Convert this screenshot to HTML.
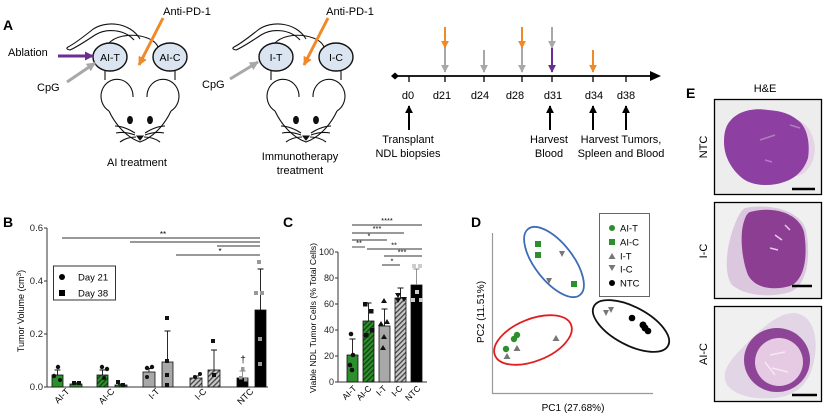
<!DOCTYPE html>
<html><head><meta charset="utf-8"><style>
html,body{margin:0;padding:0;background:#fff;}
svg{display:block;font-family:"Liberation Sans",Arial,sans-serif;}
</style></head><body>
<svg width="825" height="416" viewBox="0 0 825 416" xmlns="http://www.w3.org/2000/svg">
<defs>
<marker id="mo" viewBox="0 0 10 10" refX="9" refY="5" markerWidth="9" markerHeight="9" orient="auto" markerUnits="userSpaceOnUse"><path d="M0,0 L10,5 L0,10 z" fill="#f08a28"/></marker>
<marker id="mg" viewBox="0 0 10 10" refX="9" refY="5" markerWidth="9" markerHeight="9" orient="auto" markerUnits="userSpaceOnUse"><path d="M0,0 L10,5 L0,10 z" fill="#a8a8a8"/></marker>
<marker id="mp" viewBox="0 0 10 10" refX="9" refY="5" markerWidth="9" markerHeight="9" orient="auto" markerUnits="userSpaceOnUse"><path d="M0,0 L10,5 L0,10 z" fill="#6a2d90"/></marker>
<marker id="mk" viewBox="0 0 10 10" refX="9" refY="5" markerWidth="9" markerHeight="9" orient="auto" markerUnits="userSpaceOnUse"><path d="M0,0 L10,5 L0,10 z" fill="#000"/></marker>
<marker id="mo2" viewBox="0 0 10 10" refX="9" refY="5" markerWidth="8" markerHeight="8" orient="auto" markerUnits="userSpaceOnUse"><path d="M0,0 L10,5 L0,10 z" fill="#f08a28"/></marker>
<marker id="mg2" viewBox="0 0 10 10" refX="9" refY="5" markerWidth="8" markerHeight="8" orient="auto" markerUnits="userSpaceOnUse"><path d="M0,0 L10,5 L0,10 z" fill="#a8a8a8"/></marker>
<marker id="mp2" viewBox="0 0 10 10" refX="9" refY="5" markerWidth="8" markerHeight="8" orient="auto" markerUnits="userSpaceOnUse"><path d="M0,0 L10,5 L0,10 z" fill="#6a2d90"/></marker>
<marker id="mk2" viewBox="0 0 10 10" refX="9" refY="5" markerWidth="8" markerHeight="8" orient="auto" markerUnits="userSpaceOnUse"><path d="M0,0 L10,5 L0,10 z" fill="#000"/></marker>
<pattern id="hg" width="3.5" height="3.5" patternUnits="userSpaceOnUse" patternTransform="rotate(45)"><rect width="3.5" height="3.5" fill="#2b8f2b"/><rect width="1.2" height="3.5" fill="#123d12"/></pattern>
<pattern id="hgr" width="3.5" height="3.5" patternUnits="userSpaceOnUse" patternTransform="rotate(45)"><rect width="3.5" height="3.5" fill="#c8c8c8"/><rect width="1.3" height="3.5" fill="#444"/></pattern>
<g id="mouse" fill="none" stroke="#111" stroke-width="1.1">
  <path d="M140,39 C130,22 105,20 92,30 C82,38 74,44 68,47 Q65,49 70,50 C77,47 86,41 95,35 C106,28 124,29 134,40" fill="#fff"/>
  <path d="M108,44 C115,36 128,34 140,36 C150,38 156,42 158,47"/>
  <path d="M105,68 L105,80 M175,68 L175,80"/>
  <path d="M133,97 A16,17 0 1 0 109,111"/>
  <path d="M147,97 A16,17 0 1 1 171,111"/>
  <path d="M109,111 C116,126 128,138 140,142 C152,138 164,126 171,111"/>
  <ellipse cx="110" cy="57" rx="17" ry="14" fill="#dbe5f1" stroke-width="1.4"/>
  <ellipse cx="170" cy="57" rx="17" ry="14" fill="#dbe5f1" stroke-width="1.4"/>
  <ellipse cx="130" cy="120" rx="2.4" ry="3.6" fill="#111"/>
  <ellipse cx="150" cy="120" rx="2.4" ry="3.6" fill="#111"/>
  <path d="M137,136 L143,136 L140,140 Z" fill="#111"/>
  <path d="M135,133 C127,128 121,126 115,126 M135,135 C127,132 121,132 116,133 M136,137 C129,137 124,139 120,142 M145,133 C153,128 159,126 165,126 M145,135 C153,132 159,132 164,133 M144,137 C151,137 156,139 160,142"/>
</g>
</defs>
<rect width="825" height="416" fill="#fff"/>

<!-- Panel A -->
<text x="3" y="30" font-size="14" font-weight="bold">A</text>
<use href="#mouse"/>
<use href="#mouse" transform="translate(166,0)"/>
<text x="110" y="61" font-size="10.5" text-anchor="middle">AI-T</text>
<text x="170" y="61" font-size="10.5" text-anchor="middle">AI-C</text>
<text x="276" y="61" font-size="10.5" text-anchor="middle">I-T</text>
<text x="336" y="61" font-size="10.5" text-anchor="middle">I-C</text>
<text x="187" y="15" font-size="11" text-anchor="middle">Anti-PD-1</text>
<text x="350" y="15" font-size="11" text-anchor="middle">Anti-PD-1</text>
<line x1="163" y1="18" x2="139" y2="65" stroke="#f08a28" stroke-width="3" marker-end="url(#mo)"/>
<line x1="328" y1="18" x2="304" y2="65" stroke="#f08a28" stroke-width="3" marker-end="url(#mo)"/>
<text x="8" y="56" font-size="11">Ablation</text>
<line x1="58" y1="56" x2="93" y2="56" stroke="#6a2d90" stroke-width="3" marker-end="url(#mp)"/>
<text x="37" y="91" font-size="11">CpG</text>
<line x1="67" y1="82" x2="95" y2="63" stroke="#a8a8a8" stroke-width="3" marker-end="url(#mg)"/>
<text x="202" y="88" font-size="11">CpG</text>
<line x1="230" y1="79" x2="258" y2="62" stroke="#a8a8a8" stroke-width="3" marker-end="url(#mg)"/>
<text x="137" y="166" font-size="11" text-anchor="middle">AI treatment</text>
<text x="300" y="160" font-size="11" text-anchor="middle">Immunotherapy</text>
<text x="300" y="174" font-size="11" text-anchor="middle">treatment</text>

<!-- Timeline -->
<line x1="395" y1="76" x2="656" y2="76" stroke="#000" stroke-width="1.8"/>
<path d="M650,71 L661,76 L650,81 Z" fill="#000"/>
<path d="M391,76 L395,72.5 L399,76 L395,79.5 Z" fill="#000"/>
<g stroke="#000" stroke-width="1.3">
<line x1="409" y1="76" x2="409" y2="82"/><line x1="445" y1="76" x2="445" y2="82"/><line x1="484" y1="76" x2="484" y2="82"/><line x1="522" y1="76" x2="522" y2="82"/><line x1="552" y1="76" x2="552" y2="82"/><line x1="593" y1="76" x2="593" y2="82"/><line x1="626" y1="76" x2="626" y2="82"/>
</g>
<g stroke-width="2">
<line x1="445" y1="27" x2="445" y2="48" stroke="#f08a28" marker-end="url(#mo2)"/>
<line x1="445" y1="48" x2="445" y2="72" stroke="#a8a8a8" marker-end="url(#mg2)"/>
<line x1="484" y1="50" x2="484" y2="72" stroke="#a8a8a8" marker-end="url(#mg2)"/>
<line x1="522" y1="27" x2="522" y2="48" stroke="#f08a28" marker-end="url(#mo2)"/>
<line x1="522" y1="48" x2="522" y2="72" stroke="#a8a8a8" marker-end="url(#mg2)"/>
<line x1="552" y1="27" x2="552" y2="48" stroke="#a8a8a8" marker-end="url(#mg2)"/>
<line x1="552" y1="48" x2="552" y2="72" stroke="#6a2d90" marker-end="url(#mp2)"/>
<line x1="593" y1="50" x2="593" y2="72" stroke="#f08a28" marker-end="url(#mo2)"/>
<line x1="409" y1="130" x2="409" y2="106" stroke="#000" marker-end="url(#mk2)"/>
<line x1="550" y1="130" x2="550" y2="106" stroke="#000" marker-end="url(#mk2)"/>
<line x1="593" y1="130" x2="593" y2="106" stroke="#000" marker-end="url(#mk2)"/>
<line x1="626" y1="130" x2="626" y2="106" stroke="#000" marker-end="url(#mk2)"/>
</g>
<g font-size="11" text-anchor="middle">
<text x="408" y="99">d0</text><text x="442" y="99">d21</text><text x="480" y="99">d24</text><text x="515" y="99">d28</text><text x="553" y="99">d31</text><text x="594" y="99">d34</text><text x="626" y="99">d38</text>
<text x="408" y="143">Transplant</text><text x="408" y="157">NDL biopsies</text>
<text x="549" y="143">Harvest</text><text x="549" y="157">Blood</text>
<text x="621" y="143">Harvest Tumors,</text><text x="621" y="157">Spleen and Blood</text>
</g>

<!-- Panel B -->
<text x="3" y="227" font-size="14" font-weight="bold">B</text>
<g stroke="#333" stroke-width="1">
<line x1="47" y1="228" x2="47" y2="387"/><line x1="47" y1="387" x2="268" y2="387"/>
<line x1="44" y1="228" x2="47" y2="228"/><line x1="44" y1="281" x2="47" y2="281"/><line x1="44" y1="334" x2="47" y2="334"/><line x1="44" y1="387" x2="47" y2="387"/>
</g>
<g font-size="9.5" text-anchor="end" fill="#222">
<text x="43" y="231">0.6</text><text x="43" y="284">0.4</text><text x="43" y="337">0.2</text><text x="43" y="390">0.0</text>
</g>
<text transform="translate(24,311) rotate(-90)" font-size="9" text-anchor="middle">Tumor Volume (cm<tspan font-size="6.5" dy="-3">3</tspan><tspan dy="3">)</tspan></text>
<rect x="53.5" y="266" width="62" height="34" fill="#fff" stroke="#333" stroke-width="1"/>
<circle cx="62" cy="277" r="3" fill="#000"/><rect x="59" y="290" width="6" height="6" fill="#000"/>
<text x="78" y="280.5" font-size="9.5">Day 21</text><text x="78" y="296.5" font-size="9.5">Day 38</text>
<g stroke="#333" stroke-width="0.9">
<line x1="62" y1="238" x2="260" y2="238"/><line x1="130" y1="242" x2="260" y2="242"/><line x1="217" y1="246" x2="260" y2="246"/><line x1="176" y1="255" x2="260" y2="255"/>
</g>
<text x="163" y="237" font-size="8" text-anchor="middle">**</text>
<text x="220" y="254" font-size="8" text-anchor="middle">*</text>
<g stroke="#111" stroke-width="0.8">
<rect x="52" y="375" width="11" height="12" fill="#2b8f2b"/>
<rect x="70" y="384" width="12" height="3" fill="#2b8f2b"/>
<rect x="97" y="375" width="11" height="12" fill="url(#hg)"/>
<rect x="115" y="385" width="12" height="2" fill="url(#hg)"/>
<rect x="143" y="372" width="12" height="15" fill="#a8a8a8"/>
<rect x="162" y="362" width="11" height="25" fill="#a8a8a8"/>
<rect x="190" y="378" width="12" height="9" fill="url(#hgr)"/>
<rect x="208" y="370" width="12" height="17" fill="url(#hgr)"/>
<rect x="237" y="378" width="11" height="9" fill="#000"/>
<rect x="255" y="310" width="11" height="77" fill="#000"/>
</g>
<g stroke="#111" stroke-width="0.9" fill="none">
<path d="M57.5,375 V370 M54.5,370 H60.5"/>
<path d="M76,384 V383 M73,383 H79"/>
<path d="M102.5,375 V370 M99.5,370 H105.5"/>
<path d="M121,385 V384 M118,384 H124"/>
<path d="M149,372 V368.5 M146,368.5 H152"/>
<path d="M167.5,362 V331 M164.5,331 H170.5"/>
<path d="M196,378 V376 M193,376 H199"/>
<path d="M214,370 V350 M211,350 H217"/>
<path d="M242.5,378 V371 M239.5,371 H245.5" stroke="#888"/>
<path d="M260.5,310 V269 M257.5,269 H263.5"/>
</g>
<g fill="#111">
<circle cx="58" cy="367" r="2.2"/><circle cx="54" cy="376" r="2.2"/><circle cx="60" cy="380" r="2"/>
<rect x="72" y="381" width="4" height="4"/><rect x="77" y="381" width="4" height="4"/>
<circle cx="102" cy="367" r="2.2"/><circle cx="107" cy="369" r="2.2"/><circle cx="104" cy="378" r="2"/>
<rect x="116" y="380" width="4" height="4"/><rect x="121" y="383" width="4" height="4"/>
<circle cx="147" cy="368" r="2.2"/><circle cx="152" cy="367" r="2.2"/><circle cx="147" cy="377" r="2"/>
<rect x="165" y="316" width="4" height="4"/><rect x="165" y="359" width="4" height="4"/><rect x="165" y="373" width="4" height="4"/><rect x="165" y="383" width="4" height="4"/>
<circle cx="195" cy="377" r="2"/><circle cx="200" cy="374" r="2"/>
<rect x="211" y="339" width="4" height="4"/><rect x="212" y="373" width="4" height="4"/>
</g>
<g fill="#999">
<rect x="241" y="367" width="3.5" height="3.5"/><rect x="239" y="376" width="3.5" height="3.5"/><rect x="244" y="378" width="3.5" height="3.5"/>
<rect x="257" y="260" width="4" height="4"/><rect x="254" y="291" width="4" height="4"/><rect x="260" y="291" width="4" height="4"/><rect x="258" y="337" width="4" height="4"/><rect x="258" y="362" width="4" height="4"/>
</g>
<text x="243" y="363" font-size="10" text-anchor="middle">†</text>
<g font-size="9" text-anchor="end">
<text transform="translate(70,392) rotate(-45)">AI-T</text>
<text transform="translate(115,392) rotate(-45)">AI-C</text>
<text transform="translate(160,392) rotate(-45)">I-T</text>
<text transform="translate(207,392) rotate(-45)">I-C</text>
<text transform="translate(254,392) rotate(-45)">NTC</text>
</g>

<!-- Panel C -->
<text x="283" y="227" font-size="14" font-weight="bold">C</text>
<g stroke="#333" stroke-width="1">
<line x1="338" y1="252" x2="338" y2="382"/><line x1="338" y1="382" x2="427" y2="382"/>
<line x1="335" y1="252" x2="338" y2="252"/><line x1="335" y1="278" x2="338" y2="278"/><line x1="335" y1="304" x2="338" y2="304"/><line x1="335" y1="330" x2="338" y2="330"/><line x1="335" y1="356" x2="338" y2="356"/><line x1="335" y1="382" x2="338" y2="382"/>
</g>
<g font-size="9" text-anchor="end" fill="#222">
<text x="334" y="255">100</text><text x="334" y="281">80</text><text x="334" y="307">60</text><text x="334" y="333">40</text><text x="334" y="359">20</text><text x="334" y="385">0</text>
</g>
<text transform="translate(316,318) rotate(-90)" font-size="8" text-anchor="middle" textLength="150" lengthAdjust="spacingAndGlyphs">Viable NDL Tumor Cells (% Total Cells)</text>
<g stroke="#333" stroke-width="0.9">
<line x1="352" y1="225" x2="422" y2="225"/><line x1="352" y1="233" x2="404" y2="233"/><line x1="352" y1="240" x2="387" y2="240"/><line x1="352" y1="247" x2="365" y2="247"/><line x1="367" y1="249" x2="422" y2="249"/><line x1="384" y1="256" x2="422" y2="256"/><line x1="382" y1="265" x2="400" y2="265"/>
</g>
<g font-size="7.5" text-anchor="middle">
<text x="387" y="223">****</text><text x="377" y="231">***</text><text x="369" y="238.5">*</text><text x="359" y="245.5">**</text><text x="394" y="247.5">**</text><text x="402" y="254.5">***</text><text x="392" y="263.5">*</text>
</g>
<g stroke="#111" stroke-width="0.8">
<rect x="347" y="355" width="11" height="27" fill="#2b8f2b"/>
<rect x="363" y="321" width="11" height="61" fill="url(#hg)"/>
<rect x="379" y="326" width="11" height="56" fill="#a8a8a8"/>
<rect x="395" y="298" width="11" height="84" fill="url(#hgr)"/>
<rect x="411" y="285" width="11" height="97" fill="#000"/>
</g>
<g stroke="#111" stroke-width="0.9" fill="none">
<path d="M352.5,355 V339 M349.5,339 H355.5"/>
<path d="M368.5,321 V303 M365.5,303 H371.5"/>
<path d="M384.5,326 V309 M381.5,309 H387.5"/>
<path d="M400.5,298 V288 M397.5,288 H403.5"/>
<path d="M416.5,285 V269 M413.5,269 H419.5" stroke="#888"/>
</g>
<g fill="#111">
<circle cx="351" cy="334" r="2.3"/><circle cx="353" cy="355" r="2.3"/><circle cx="350" cy="365" r="2.3"/><circle cx="352" cy="370" r="2.3"/>
<rect x="363" y="302" width="4.5" height="4.5"/><rect x="369" y="309" width="4.5" height="4.5"/><rect x="364" y="333" width="4.5" height="4.5"/><rect x="370" y="328" width="4.5" height="4.5"/>
<path d="M384,298 L387,303 L381,303 Z"/><path d="M381,321 L384,326 L378,326 Z"/><path d="M387,319 L390,324 L384,324 Z"/><path d="M384,334 L387,339 L381,339 Z"/><path d="M383,345 L386,350 L380,350 Z"/>
<path d="M395,293 L401,293 L398,298 Z"/><path d="M401,297 L407,297 L404,302 Z"/><path d="M395,298 L401,298 L398,303 Z"/>
</g>
<g fill="#ccc">
<rect x="412" y="264" width="4" height="4"/><rect x="418" y="264" width="4" height="4"/><rect x="411" y="298" width="4" height="4"/><rect x="415" y="290" width="4" height="4"/><rect x="419" y="298" width="4" height="4"/>
</g>
<g font-size="8.5" text-anchor="end">
<text transform="translate(357,389) rotate(-45)">AI-T</text>
<text transform="translate(372,389) rotate(-45)">AI-C</text>
<text transform="translate(387,389) rotate(-45)">I-T</text>
<text transform="translate(403,389) rotate(-45)">I-C</text>
<text transform="translate(421,389) rotate(-45)">NTC</text>
</g>

<!-- Panel D -->
<text x="471" y="227" font-size="14" font-weight="bold">D</text>
<g stroke="#999" stroke-width="1.2">
<line x1="492.5" y1="233" x2="492.5" y2="394"/><line x1="492" y1="393.5" x2="653" y2="393.5"/>
</g>
<text transform="translate(484,312) rotate(-90)" font-size="10" text-anchor="middle">PC2 (11.51%)</text>
<text x="573" y="411" font-size="10" text-anchor="middle">PC1 (27.68%)</text>
<g fill="none" stroke-width="1.8">
<ellipse cx="554" cy="262" rx="42" ry="19" transform="rotate(52 554 262)" stroke="#3d6db5"/>
<ellipse cx="533" cy="340" rx="41" ry="21" transform="rotate(-22 533 340)" stroke="#e01f1f"/>
<ellipse cx="631" cy="326" rx="42" ry="19" transform="rotate(28 631 326)" stroke="#111"/>
</g>
<rect x="599.5" y="213.5" width="50" height="83" fill="#fff" stroke="#666" stroke-width="1"/>
<circle cx="612" cy="228" r="3" fill="#2b8f2b"/>
<rect x="609" y="239" width="6" height="6" fill="#2b8f2b"/>
<path d="M612,253 L615.5,259 L608.5,259 Z" fill="#777"/>
<path d="M608.5,265 L615.5,265 L612,271 Z" fill="#777"/>
<circle cx="612" cy="283" r="3" fill="#000"/>
<g font-size="9.5"><text x="620" y="231.5">AI-T</text><text x="620" y="245.5">AI-C</text><text x="620" y="259.5">I-T</text><text x="620" y="272.5">I-C</text><text x="620" y="286.5">NTC</text></g>
<g fill="#2b8f2b">
<rect x="535" y="241" width="6" height="6"/><rect x="535" y="252" width="6" height="6"/><rect x="571" y="281" width="6" height="6"/>
<circle cx="517" cy="335" r="3.2"/><circle cx="514" cy="339" r="3.2"/><circle cx="506" cy="349" r="3.2"/>
</g>
<g fill="#777">
<path d="M559,251 L565,251 L562,257 Z"/><path d="M546,278 L552,278 L549,284 Z"/>
<path d="M603,310 L609,310 L606,316 Z"/><path d="M608,307 L614,307 L611,313 Z"/>
<path d="M556,335 L559.5,341 L552.5,341 Z"/><path d="M517,345 L520.5,351 L513.5,351 Z"/><path d="M507,353 L510.5,359 L503.5,359 Z"/>
</g>
<g fill="#000">
<circle cx="632" cy="318" r="3.3"/><circle cx="643" cy="325" r="3.5"/><circle cx="645" cy="328" r="3.5"/><circle cx="648" cy="331" r="3.3"/>
</g>

<!-- Panel E -->
<text x="686" y="98" font-size="14" font-weight="bold">E</text>
<text x="765" y="92" font-size="11" text-anchor="middle">H&amp;E</text>
<text transform="translate(707,147) rotate(-90)" font-size="11" text-anchor="middle">NTC</text>
<text transform="translate(707,251) rotate(-90)" font-size="11" text-anchor="middle">I-C</text>
<text transform="translate(707,354) rotate(-90)" font-size="11" text-anchor="middle">AI-C</text>
<rect x="714.5" y="99.5" width="107" height="95" fill="#ededee" stroke="#000" stroke-width="1.3"/>
<path d="M798,120 C812,126 818,145 813,160 C809,170 802,176 796,176 Z" fill="#e6d3e6"/>
<path d="M731,120 C740,110 755,108 768,110 C780,111 790,113 800,122 C808,130 810,145 808,158 C804,170 796,178 784,182 C770,187 752,186 742,178 C730,168 724,155 724,142 C724,132 726,125 731,120 Z" fill="#8d40a1"/>
<path d="M760,140 L775,135 M790,125 L800,128 M765,160 L772,162" stroke="#b27cc0" stroke-width="1.5"/>
<line x1="792" y1="189" x2="815" y2="189" stroke="#000" stroke-width="2.5"/>
<rect x="714.5" y="202.5" width="107" height="96" fill="#f0f0f0" stroke="#000" stroke-width="1.3"/>
<path d="M745,208 C770,203 800,210 806,230 C811,255 808,285 790,292 C770,298 745,296 732,285 C724,275 726,250 732,232 C736,220 740,211 745,208 Z" fill="#dcc8de"/>
<path d="M750,212 C772,206 798,212 804,232 C808,255 805,280 790,286 C772,291 755,288 748,275 C742,260 740,238 743,225 C745,217 747,213 750,212 Z" fill="#8b3e92"/>
<path d="M775,235 L782,240 M770,248 L778,250 M785,225 L790,230" stroke="#e8c8ea" stroke-width="1.5"/>
<line x1="792" y1="286" x2="812" y2="286" stroke="#000" stroke-width="2.5"/>
<rect x="714.5" y="306.5" width="107" height="95" fill="#f0f0f0" stroke="#000" stroke-width="1.3"/>
<path d="M795,313 C812,315 818,335 815,355 C812,380 800,395 775,398 C752,400 735,395 727,385 C720,372 730,360 745,345 C760,330 778,312 795,313 Z" fill="#e2d6e6"/>
<ellipse cx="777" cy="360" rx="33" ry="32" fill="#8e4597"/>
<ellipse cx="779" cy="362" rx="24" ry="24" fill="#e6c9e2"/>
<path d="M770,355 L785,352 M772,368 L788,372 M765,362 L775,375" stroke="#f6e8f4" stroke-width="1.5"/>
<line x1="792" y1="395" x2="817" y2="395" stroke="#000" stroke-width="2.5"/>
</svg>
</body></html>
